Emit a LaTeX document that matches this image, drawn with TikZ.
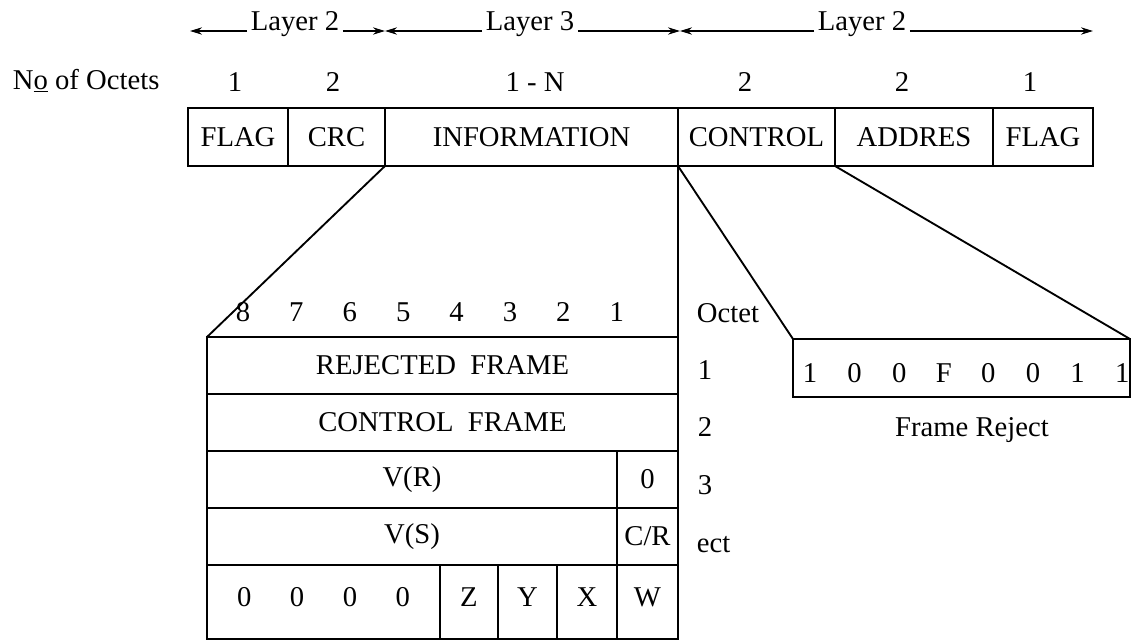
\documentclass[tikz,border=0pt]{standalone}
\usepackage{fontspec}
\setmainfont{Liberation Serif}
\usetikzlibrary{positioning,arrows.meta}

\tikzset{every picture/.style={line width=1.4pt}}
\tikzset{
  txt/.style={font=\fontsize{21.5}{26}\selectfont, inner sep=0pt},
  field/.style={txt, draw, outer sep=0pt, minimum height=43.5pt},
  cell/.style={txt, draw, outer sep=0pt, minimum height=42.75pt},
  lastcell/.style={cell, minimum height=55.5pt, text height=15pt, text depth=9pt},
  lyr/.style={line width=1pt, -{Stealth[length=9pt,width=5.5pt]}},
}

\begin{document}
\begin{tikzpicture}[x=0.75pt,y=0.75pt,yscale=-1,xscale=1]
\useasboundingbox (0,0) rectangle (1133,642);

% Layer headings
\node[txt, anchor=base, inner xsep=2pt] (lay2a) at (295,31) {Layer 2};
\node[txt, anchor=base, inner xsep=2pt] (lay3) at (530,31) {Layer 3};
\node[txt, anchor=base, inner xsep=2pt] (lay2b) at (862,31) {Layer 2};
\coordinate (e0) at (190,31);
\coordinate (j1) at (385,31);
\coordinate (j2) at (680,31);
\coordinate (e3) at (1093,31);
\draw[lyr] (lay2a.base west) -- (e0);
\draw[lyr] (lay2a.base east) -- (j1);
\draw[lyr] (lay3.base west) -- (j1);
\draw[lyr] (lay3.base east) -- (j2);
\draw[lyr] (lay2b.base west) -- (j2);
\draw[lyr] (lay2b.base east) -- (e3);

% Octet counts
\node[txt, anchor=west] (octs) at (12,81) {N\underline{o} of Octets};
\node[txt] (n1) at (235,82) {1};
\node[txt] (n2) at (333,82) {2};
\node[txt] (n3) at (535,82) {1 - N};
\node[txt] (n4) at (745,82) {2};
\node[txt] (n5) at (902,82) {2};
\node[txt] (n6) at (1030,82) {1};

% Frame fields
\node[field, minimum width=75pt, anchor=north west] (flaga) at (188,108) {FLAG};
\node[field, minimum width=72.75pt, right=0pt of flaga] (crc) {CRC};
\node[field, minimum width=219.75pt, right=0pt of crc] (info) {INFORMATION};
\node[field, minimum width=117.75pt, right=0pt of info] (ctrl) {CONTROL};
\node[field, minimum width=118.5pt, right=0pt of ctrl] (addr) {ADDRES};
\node[field, minimum width=75pt, right=0pt of addr] (flagb) {FLAG};

% Information field, bit by bit
\foreach \b [count=\i from 0] in {8,7,6,5,4,3,2,1}
  \node[txt] (bit\b) at ({243+53.4*\i},312) {\b};
\node[cell, minimum width=353.25pt, anchor=north west] (rej) at (207,337) {REJECTED\ \ FRAME};
\node[cell, minimum width=353.25pt, below=0pt of rej] (cfr) {CONTROL\ \ FRAME};
\node[cell, minimum width=307.5pt, below right=0pt of cfr.south west] (vr) {V(R)\hspace{43pt}};
\node[cell, minimum width=45.75pt, right=0pt of vr] (pf) {0};
\node[cell, minimum width=307.5pt, below right=0pt of vr.south west] (vs) {V(S)\hspace{43pt}};
\node[cell, minimum width=45.75pt, right=0pt of vs] (cr) {C/R};
\node[lastcell, minimum width=174.75pt, below right=0pt of vs.south west] (pad) {0\hspace{28.9pt}0\hspace{28.9pt}0\hspace{28.9pt}0};
\node[lastcell, minimum width=43.5pt, right=0pt of pad] (bz) {Z};
\node[lastcell, minimum width=44.25pt, right=0pt of bz] (by) {Y};
\node[lastcell, minimum width=45pt, right=0pt of by] (bx) {X};
\node[lastcell, minimum width=45.75pt, right=0pt of bx] (bw) {W};

% Octet numbers
\node[txt, anchor=west] (oct) at (696,313) {Octet};
\node[txt, anchor=west] (o1) at (697,370) {1};
\node[txt, anchor=west] (o2) at (697,427) {2};
\node[txt, anchor=west] (o3) at (697,485) {3};
\node[txt, anchor=west] (o4) at (696,545) {ect};

% Control field: frame reject
\node[field, minimum width=252.75pt, anchor=north west] (frej) at (793,339) {};
\foreach \d [count=\i from 0] in {1,0,0,F,0,0,1,1}
  \node[txt] (fr\i) at ({810+44.6*\i},373) {\d};
\node[txt] (frcap) at (972,430) {Frame Reject};

% Fan-out lines
\draw (crc.south east) -- (rej.north west);
\draw (info.south east) -- (rej.north east);
\draw (info.south east) -- (frej.north west);
\draw (ctrl.south east) -- (frej.north east);

\end{tikzpicture}
\end{document}
